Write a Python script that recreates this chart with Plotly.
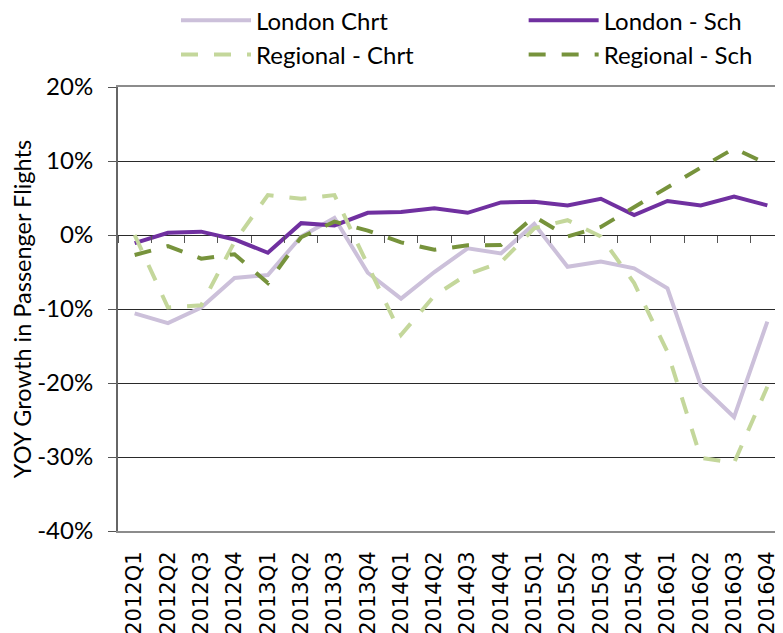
import plotly.graph_objects as go

categories = ['2012Q1', '2012Q2', '2012Q3', '2012Q4', '2013Q1', '2013Q2', '2013Q3', '2013Q4',
              '2014Q1', '2014Q2', '2014Q3', '2014Q4', '2015Q1', '2015Q2', '2015Q3', '2015Q4',
              '2016Q1', '2016Q2', '2016Q3', '2016Q4']

london_chrt = [-10.6, -11.9, -9.8, -5.8, -5.4, -0.2, 2.3, -5.1, -8.6, -5.0,
               -1.8, -2.5, 1.5, -4.3, -3.6, -4.5, -7.2, -20.3, -24.6, -11.7]
london_sch = [-1.1, 0.3, 0.45, -0.6, -2.4, 1.6, 1.3, 3.0, 3.1, 3.6,
              3.0, 4.4, 4.5, 4.0, 4.9, 2.7, 4.6, 4.0, 5.2, 4.0]
regional_chrt = [0.0, -9.8, -9.5, -0.9, 5.4, 4.9, 5.4, -3.9, -13.5, -8.2,
                 -5.3, -3.7, 0.9, 2.0, -0.2, -6.5, -15.8, -30.1, -30.8, -20.5]
regional_sch = [-2.7, -1.5, -3.2, -2.6, -6.5, -0.3, 1.8, 0.6, -1.0, -2.0,
                -1.4, -1.35, 2.5, -0.2, 1.1, 3.8, 6.4, 9.1, 11.7, 9.6]

y_tickvals = [20, 10, 0, -10, -20, -30, -40]
y_ticktext = ['20%', '10%', '0%', '-10%', '-20%', '-30%', '-40%']

DASH = '17px,16px'
fig = go.Figure()
fig.add_trace(go.Scatter(x=categories, y=london_chrt, name='London Chrt', mode='lines',
                         line=dict(color='#CCC0DA', width=4), legend='legend'))
fig.add_trace(go.Scatter(x=categories, y=london_sch, name='London - Sch', mode='lines',
                         line=dict(color='#7030A0', width=4), legend='legend2'))
fig.add_trace(go.Scatter(x=categories, y=regional_chrt, name='Regional - Chrt', mode='lines',
                         line=dict(color='#C4D79B', width=4, dash=DASH), legend='legend'))
fig.add_trace(go.Scatter(x=categories, y=regional_sch, name='Regional - Sch', mode='lines',
                         line=dict(color='#77933C', width=4, dash=DASH), legend='legend2'))
# invisible helper trace so the zero-line category axis has its categories
fig.add_trace(go.Scatter(x=categories, y=london_sch, xaxis='x2', mode='lines', opacity=0,
                         showlegend=False, hoverinfo='skip', line=dict(width=0)))

font_main = 'Lato, Arial, sans-serif'
legend_common = dict(orientation='v', xref='paper', yref='paper', xanchor='left', yanchor='top',
                     font=dict(family=font_main, size=24, color='#000000'),
                     itemwidth=70, bgcolor='rgba(0,0,0,0)', tracegroupgap=0)

fig.update_layout(
    width=775, height=625,
    margin=dict(l=110, r=0, t=79, b=102, autoexpand=False),
    paper_bgcolor='white', plot_bgcolor='white',
    showlegend=True,
    legend=dict(x=0.0872, y=1.2, **legend_common),
    legend2=dict(x=0.610, y=1.2, **legend_common),
    xaxis=dict(type='category', categoryarray=categories, categoryorder='array',
               range=[-0.5, 19.47], showgrid=False, zeroline=False, automargin=False,
               showline=True, linecolor='#8c8c8c', linewidth=2, mirror=True,
               ticks='', tickangle=-90, ticklabelstandoff=10,
               tickfont=dict(family='DejaVu Sans', size=21, color='#000000')),
    xaxis2=dict(type='category', categoryarray=categories, categoryorder='array',
                overlaying='x', anchor='free', position=2/3, range=[-0.5, 19.47],
                showgrid=False, zeroline=False, showline=False, showticklabels=False,
                ticks='outside', ticklen=7, tickwidth=1, tickcolor='#555555',
                tickson='boundaries'),
    yaxis=dict(range=[-40, 20], tickmode='array', tickvals=y_tickvals, ticktext=y_ticktext,
               showgrid=True, gridcolor='#2a2a2a', gridwidth=1, zeroline=False, automargin=False,
               showline=True, linecolor='#666666', linewidth=2,
               ticks='outside', ticklen=8, tickcolor='#555555', tickwidth=1,
               ticklabelstandoff=10,
               tickfont=dict(family=font_main, size=24, color='#000000'),
               title=dict(text='YOY Growth in Passenger Flights', standoff=0,
                          font=dict(family=font_main, size=23.5, color='#000000'))),
)

fig.write_html('out.html')
